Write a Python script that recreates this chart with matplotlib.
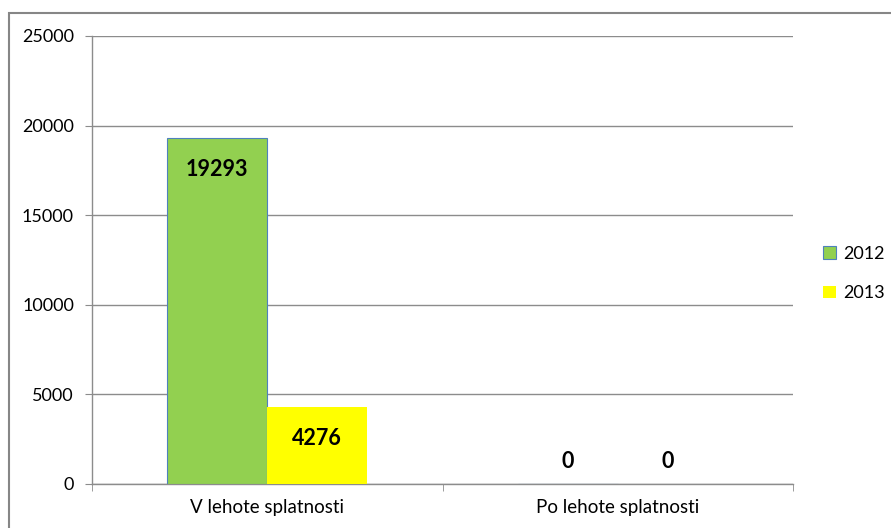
import matplotlib
matplotlib.use("Agg")
import matplotlib.pyplot as plt
import numpy as np
from matplotlib.patches import Rectangle

categories = ["V lehote splatnosti", "Po lehote splatnosti"]
series_names = ["2012", "2013"]
values_2012 = [19293, 0]
values_2013 = [4276, 0]
yticks = [0, 5000, 10000, 15000, 20000, 25000]

plt.rcParams['font.family'] = ['Lato', 'DejaVu Sans']

fig = plt.figure(figsize=(8.91, 5.28), dpi=100)
ax = fig.add_axes([92/891, 1-484/528, (793-92)/891, (484-36)/528])

# outer chart border
fig.patches.append(Rectangle((9/891, -0.1), 1.1, 1-13/528+0.1, transform=fig.transFigure,
                             fill=False, edgecolor='#868686', linewidth=1.5, zorder=0))

x = np.arange(len(categories))
w = 0.285
colors = ['#92D050', '#FFFF00']
edges = ['#4F81BD', 'none']
for i, (vals, name) in enumerate(zip([values_2012, values_2013], series_names)):
    pos = x + (i - 0.5) * w
    ax.bar(pos, vals, width=w, color=colors[i], edgecolor=edges[i], linewidth=0.8,
           label=name, zorder=3)
    for p, v in zip(pos, vals):
        if v > 0:
            ax.annotate(str(v), (p, v), xytext=(0, -22.5), textcoords='offset points',
                        ha='center', va='center', fontsize=15.5, fontweight='bold', zorder=4)
        else:
            ax.annotate(str(v), (p, v), xytext=(0, 16.5), textcoords='offset points',
                        ha='center', va='center', fontsize=15.5, fontweight='bold', zorder=4)

ax.set_xlim(-0.5, len(categories) - 0.5)
ax.set_ylim(0, 25000)
ax.set_yticks(yticks)
ax.set_yticklabels([str(t) for t in yticks], fontsize=13)
ax.yaxis.grid(True, color='#8C8C8C', linewidth=1, zorder=0)
ax.set_axisbelow(True)

ax.set_xticks(x)
ax.set_xticklabels(categories, fontsize=13.5)
ax.tick_params(axis='x', length=0, pad=11)
ax.set_xticks([-0.5, 0.5, 1.5], minor=True)
ax.tick_params(axis='x', which='minor', length=5, color='#8C8C8C', direction='out')
ax.tick_params(axis='y', length=5, color='#8C8C8C', direction='out', pad=8)

for s in ['top', 'right']:
    ax.spines[s].set_visible(False)
for s in ['left', 'bottom']:
    ax.spines[s].set_color('#8C8C8C')
    ax.spines[s].set_linewidth(1)

leg = ax.legend(loc='center left', bbox_to_anchor=(1.02, 0.47), frameon=False,
                fontsize=13, handlelength=0.7, handleheight=0.7, handletextpad=0.4,
                labelspacing=1.3)

fig.savefig("out.png", dpi=100)
